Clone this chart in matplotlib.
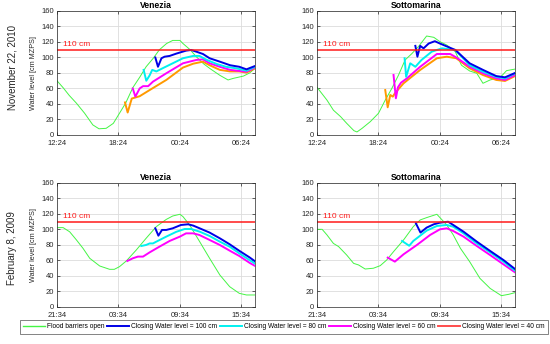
import numpy as np
import matplotlib
matplotlib.use("Agg")
import matplotlib.pyplot as plt
from matplotlib.lines import Line2D

plt.rcParams['font.family'] = ['Liberation Sans', 'DejaVu Sans']

# %% data (hours after first tick, water level in cm MZPS)
row_labels = ["November 22, 2010", "February 8, 2009"]
stations = ["Venezia", "Sottomarina"]
xtick_hours = [0, 6, 12, 18]
xticks_2010 = ["12:24", "18:24", "00:24", "06:24"]
xticks_2009 = ["21:34", "03:34", "09:34", "15:34"]
x_end = 19.33
alarm_level = 110

# Venezia, Nov 2010
ven10_green_t = [0, 0.6, 1.2, 1.9, 2.7, 3.5, 4.1, 4.8, 5.5, 6.1, 6.7, 7.4, 8.1, 8.7, 9.4, 10.0, 10.7, 11.3,
                 12.0, 12.3, 13.0, 13.6, 14.3, 14.9, 15.9, 16.7, 17.2, 18.2, 18.8, 19.33]
ven10_green = [70, 61, 51, 41, 28, 13, 8, 8.6, 15, 28, 41, 61, 75, 88, 99, 110, 118, 122,
               122, 118, 110, 101, 92, 86, 77, 71, 73, 76, 80, 86]
ven10_c40_t = [6.64, 6.9, 7.3, 8.07, 9.05, 10.67, 12.3, 13.3, 14.25, 14.9, 15.9, 16.9, 17.8, 18.5, 19.33]
ven10_c40 = [42, 29, 47, 50, 58, 71, 87, 92, 94.6, 90, 84, 82, 82, 80.5, 86]
ven10_c60_t = [7.4, 7.65, 8.07, 8.4, 8.9, 9.37, 10.67, 12.3, 13.6, 14.25, 14.9, 15.9, 16.9, 17.8, 18.5, 19.33]
ven10_c60 = [60, 49.5, 60, 63, 63, 68.8, 79.6, 92.5, 96.8, 97.6, 92.5, 88, 84, 82.6, 81.7, 87]
ven10_c80_t = [8.46, 8.72, 9.05, 9.3, 9.7, 10.3, 11.3, 12.3, 13.3, 13.9, 14.6, 15.6, 16.5, 17.5, 18.5, 19.33]
ven10_c80 = [84, 70, 77, 84, 82, 86, 92.5, 99, 102, 102, 97, 91.6, 88, 86, 83, 88]
ven10_c100_t = [9.6, 9.86, 10.2, 10.5, 11.0, 11.65, 12.6, 13.1, 13.6, 14.25, 14.9, 15.9, 16.9, 17.8, 18.5, 19.33]
ven10_c100 = [100, 88, 99, 101, 102, 105, 108.8, 109.7, 107.5, 104.5, 99, 94.6, 90, 88, 84.7, 89]

# Sottomarina, Nov 2010
sot10_green_t = [0, 0.97, 1.6, 2.3, 2.9, 3.6, 3.9, 4.4, 5.2, 6.0, 6.66, 7.3, 7.96, 8.6, 9.26, 9.9, 10.7,
                 11.4, 12.0, 12.67, 13.5, 14.1, 14.9, 15.6, 16.2, 16.9, 17.9, 18.5, 19.33]
sot10_green = [61.5, 45, 32, 23.7, 15, 5.6, 3.9, 8.6, 17.2, 28, 45, 60, 77.4, 96.8, 105, 114, 127.7,
               126, 120.4, 116, 107.5, 90, 82.6, 79.6, 66.7, 71, 74.4, 83, 85]
sot10_c40_t = [6.66, 6.9, 7.15, 7.4, 7.6, 8.45, 10.07, 11.7, 12.67, 13.6, 14.9, 16.2, 17.5, 18.35, 19.33]
sot10_c40 = [58, 35.7, 51.6, 49.5, 53.8, 66.7, 83.9, 99, 101, 99, 86, 77.4, 71, 69.7, 76]
sot10_c60_t = [7.47, 7.7, 7.9, 8.2, 8.77, 10.07, 11.7, 13.0, 13.6, 14.9, 16.2, 17.5, 18.35, 19.33]
sot10_c60 = [77.4, 47.3, 61.5, 67.5, 73, 88, 104.5, 104.5, 100, 88, 79.6, 73, 71, 77.4]
sot10_c80_t = [8.55, 8.7, 9.1, 9.6, 10.2, 11.2, 12.2, 13.5, 14.9, 16.2, 17.5, 18.35, 19.33]
sot10_c80 = [99, 75, 92.5, 88, 96.8, 107.5, 111.8, 109.7, 90, 81.7, 75, 73, 79.6]
sot10_c100_t = [9.6, 9.8, 10.07, 10.4, 10.9, 11.5, 12.0, 13.5, 14.9, 16.2, 17.5, 18.35, 19.33]
sot10_c100 = [115, 101, 115, 111.8, 118, 121, 118, 109.7, 92.5, 84, 76, 74.4, 80]

# Venezia, Feb 2009
ven09_green_t = [0, 0.6, 1.24, 1.9, 2.54, 3.2, 4.17, 5.14, 5.6, 6.1, 6.77, 7.74, 8.7, 9.7, 10.67, 11.3,
                 12.0, 12.3, 12.95, 13.93, 14.9, 15.9, 16.86, 17.8, 18.5, 19.33]
ven09_green = [102.4, 102.4, 97, 86.5, 75.7, 62.8, 52.9, 48.6, 48.6, 52, 59.4, 73.5, 88.6, 103.7, 113, 117.4,
               119.6, 116.6, 105.8, 84.3, 62.8, 41.3, 26.2, 17.6, 15.5, 15.5]
ven09_c60_t = [6.87, 7.4, 7.9, 8.4, 9.05, 10.0, 11.0, 12.0, 12.6, 13.3, 13.9, 14.9, 15.9, 16.86, 17.8, 18.8, 19.33]
ven09_c60 = [59.4, 62.8, 65, 65, 70.5, 77.8, 85.2, 90.8, 95, 95, 92.9, 86.5, 80, 72.7, 65.8, 57, 53]
ven09_c80_t = [8.23, 8.7, 9.05, 9.37, 9.7, 10.67, 11.65, 12.46, 13.1, 13.93, 14.9, 15.9, 16.86, 17.8, 18.8, 19.33]
ven09_c80 = [78.7, 80, 82, 82, 84.3, 90.8, 97, 100.6, 100.6, 97.2, 91.6, 84.3, 77.8, 69.2, 60.5, 56]
ven09_c100_t = [9.6, 9.9, 10.25, 10.67, 11.3, 12.1, 12.8, 13.3, 13.93, 14.9, 15.9, 16.86, 17.8, 18.8, 19.33]
ven09_c100 = [101.5, 92, 99.4, 99.4, 101.5, 105.8, 106.7, 105, 101.5, 96, 88.6, 80.9, 72.5, 64, 59]

# Sottomarina, Feb 2009
sot09_green_t = [0, 0.5, 0.97, 1.6, 2.1, 2.9, 3.57, 4.06, 4.7, 5.5, 6.17, 6.8, 7.47, 8.45, 9.4, 10.07, 10.7,
                 11.7, 12.0, 12.67, 13.3, 14.0, 14.9, 15.9, 16.9, 18.0, 18.7, 19.33]
sot09_green = [100.2, 100.2, 93, 82, 78, 67, 56.3, 54.2, 49, 50, 53.3, 60.6, 71.4, 86.5, 103.7, 112.3, 115.3,
               119.6, 115.3, 105.8, 93, 75.7, 58.5, 37, 24, 14.6, 16.3, 18.5]
sot09_c60_t = [6.9, 7.6, 8.45, 9.75, 11.05, 12.0, 12.67, 13.3, 14.3, 15.6, 16.9, 18.2, 19.33]
sot09_c60 = [63.7, 58.5, 68, 80, 93, 100.2, 101.5, 98, 90.8, 78.7, 67, 55, 44.7]
sot09_c80_t = [8.3, 9.0, 9.4, 10.07, 10.7, 11.7, 12.67, 13.3, 14.3, 15.6, 16.9, 18.2, 19.33]
sot09_c80 = [85.2, 79, 85.2, 92, 98.5, 104.5, 105.8, 103.6, 95, 82, 70.5, 58.5, 46.9]
sot09_c100_t = [9.65, 10.1, 10.7, 11.4, 12.0, 12.8, 13.3, 14.3, 15.6, 16.9, 18.2, 19.33]
sot09_c100 = [108, 96, 102.4, 106.7, 108.8, 110, 105.8, 97.2, 84.3, 72.3, 60.6, 49]

legend_labels = ["Flood barriers open", "Closing Water level = 100 cm", "Closing Water level = 80 cm",
                 "Closing Water level = 60 cm", "Closing Water level = 40 cm"]

# %% styles
GREEN = "#44f544"
BLUE = "#0000e6"
CYAN = "#00f0f0"
MAGENTA = "#ff00ff"
ORANGE = "#ff9900"
RED = "#ff1a1a"
TXT = "#262626"


def style_axes(ax, labels, title, ylabel):
    ax.set_xlim(0, x_end)
    ax.set_ylim(0, 160)
    ax.set_xticks(xtick_hours, labels=labels)
    ax.set_yticks(np.arange(0, 161, 20))
    ax.grid(True, color="#dcdcdc", linewidth=0.6)
    ax.set_axisbelow(True)
    ax.tick_params(direction="in", length=2, width=0.5, labelsize=5.5, colors=TXT,
                   top=True, right=True, pad=2)
    ax.tick_params(axis="x", pad=3.5)
    for sp in ax.spines.values():
        sp.set_color(TXT)
        sp.set_linewidth(0.5)
    ax.set_title(title, fontsize=6.2, fontweight="bold", pad=2)
    if ylabel:
        ax.set_ylabel("Water level [cm MZPS]", fontsize=5.2, color=TXT, labelpad=3)


def plot_panel(ax, green, c100, c80, c60, c40=None):
    ax.plot(green[0], green[1], color=GREEN, lw=0.7)
    if c40 is not None:
        ax.plot(c40[0], c40[1], color=ORANGE, lw=1.4)
    ax.plot(c60[0], c60[1], color=MAGENTA, lw=1.4)
    ax.plot(c80[0], c80[1], color=CYAN, lw=1.4)
    ax.plot(c100[0], c100[1], color=BLUE, lw=1.4)
    ax.axhline(alarm_level, color=RED, lw=1.1)
    ax.text(0.6, alarm_level + 2, "110 cm", color=RED, fontsize=6, va="bottom")


# %% figure
fig = plt.figure(figsize=(5.5, 3.44), dpi=100)
w, h = 0.36, 0.3605
ax_tl = fig.add_axes([0.1036, 0.6076, w, h])
ax_tr = fig.add_axes([0.5764, 0.6076, w, h])
ax_bl = fig.add_axes([0.1036, 0.1076, w, h])
ax_br = fig.add_axes([0.5764, 0.1076, w, h])

plot_panel(ax_tl, (ven10_green_t, ven10_green), (ven10_c100_t, ven10_c100),
           (ven10_c80_t, ven10_c80), (ven10_c60_t, ven10_c60), (ven10_c40_t, ven10_c40))
plot_panel(ax_tr, (sot10_green_t, sot10_green), (sot10_c100_t, sot10_c100),
           (sot10_c80_t, sot10_c80), (sot10_c60_t, sot10_c60), (sot10_c40_t, sot10_c40))
plot_panel(ax_bl, (ven09_green_t, ven09_green), (ven09_c100_t, ven09_c100),
           (ven09_c80_t, ven09_c80), (ven09_c60_t, ven09_c60))
plot_panel(ax_br, (sot09_green_t, sot09_green), (sot09_c100_t, sot09_c100),
           (sot09_c80_t, sot09_c80), (sot09_c60_t, sot09_c60))

style_axes(ax_tl, xticks_2010, stations[0], True)
style_axes(ax_tr, xticks_2010, stations[1], False)
style_axes(ax_bl, xticks_2009, stations[0], True)
style_axes(ax_br, xticks_2009, stations[1], False)

# row labels
fig.text(0.022, 0.805, row_labels[0], rotation=90, fontsize=7, ha="center", va="center", color=TXT)
fig.text(0.022, 0.28, row_labels[1], rotation=90, fontsize=7, ha="center", va="center", color=TXT)

# legend (last entry shown in red as in the original)
handles = [Line2D([], [], color=c, lw=1.4 if i else 1.0)
           for i, c in enumerate([GREEN, BLUE, CYAN, MAGENTA, "#ff4d4d"])]
leg = fig.legend(handles, legend_labels, loc="center", bbox_to_anchor=(0.516, 0.05), ncol=5,
                 fontsize=4.8, frameon=True, fancybox=False, edgecolor=TXT, handlelength=3.3,
                 handletextpad=0.25, columnspacing=0.45, borderpad=0.5)
leg.get_frame().set_linewidth(0.5)

fig.savefig("out.png", dpi=100)
